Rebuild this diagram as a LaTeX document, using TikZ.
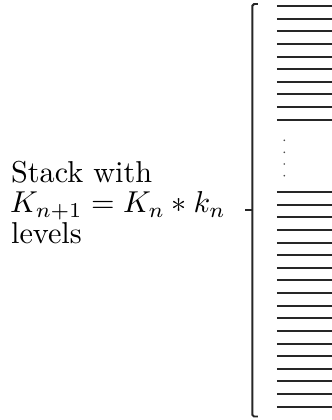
\documentclass[tikz,border=0pt]{standalone}
\begin{document}
\begin{tikzpicture}[x=0.331pt,y=-0.331pt,
  level/.style={line width=0.65pt,black!85},
  bracketline/.style={line width=0.65pt,black!85,rounded corners=0.6pt},
  label/.style={anchor=base west,inner sep=0pt,font=\fontsize{10}{10.5}\selectfont},
  dot/.style={circle,fill=black!70,inner sep=0pt,minimum size=0.6pt}]
\useasboundingbox (0,0) rectangle (332,420);
% text
\node[label] (l1) at (10.5,182) {Stack with};
\node[label] (l2) at (9.5,212.5) {$K_{n+1}=K_n*k_n$};
\node[label] (l3) at (10.5,243) {levels};
% bracket
\coordinate (bt) at (258,4);
\coordinate (bb) at (258,416.5);
\coordinate (tip) at (245,210.3);
\draw[bracketline] (bt) -- (252.3,4) -- (252.3,416.5) -- (bb);
\draw[bracketline] (252.3,210.3) -- (tip);
% levels top
\foreach \i in {0,...,9} {
  \draw[level] (277,{6+12.63*\i}) -- (334,{6+12.63*\i});
}
% dots
\foreach \y [count=\k] in {140.3,152.3,164,175.7} {
  \node[dot] (d\k) at (284.3,\y) {};
}
% levels bottom
\foreach \i in {0,...,17} {
  \draw[level] (277,{192+12.63*\i}) -- (334,{192+12.63*\i});
}
\end{tikzpicture}
\end{document}
